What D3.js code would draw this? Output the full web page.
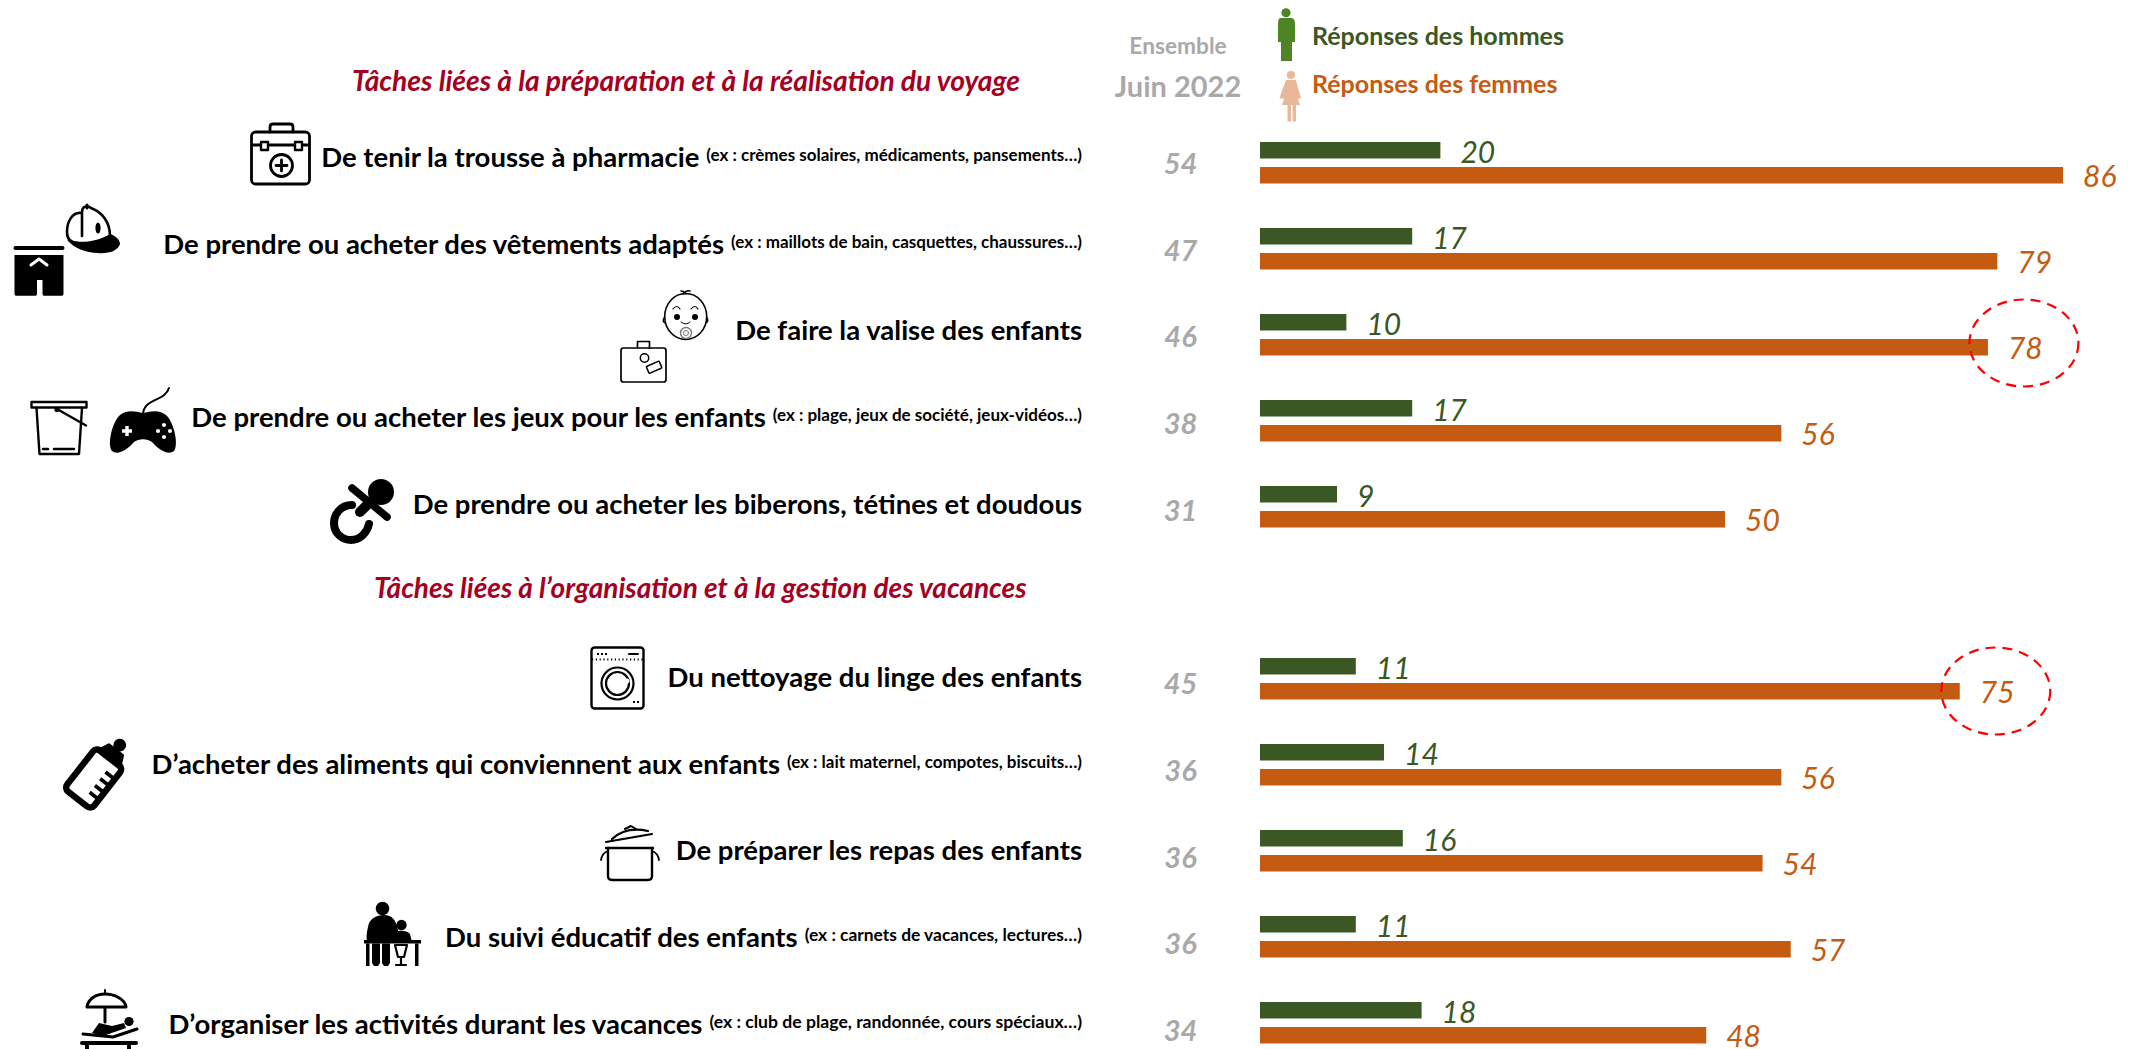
<!DOCTYPE html>
<html lang="fr">
<head>
<meta charset="utf-8">
<title>Tâches liées aux vacances</title>
<script src="https://cdn.jsdelivr.net/npm/d3@7"></script>
<style>
  html, body { margin: 0; padding: 0; background: #fff; }
  svg { display: block; }
  text { font-family: Lato, "Open Sans", sans-serif; }
</style>
</head>
<body>
<div id="chart"></div>
<script>
// Data
var tasks = [
    'De tenir la trousse à pharmacie',
    'De prendre ou acheter des vêtements adaptés',
    'De faire la valise des enfants',
    'De prendre ou acheter les jeux pour les enfants',
    'De prendre ou acheter les biberons, tétines et doudous',
    '',
    'Du nettoyage du linge des enfants',
    'D’acheter des aliments qui conviennent aux enfants',
    'De préparer les repas des enfants',
    'Du suivi éducatif des enfants',
    'D’organiser les activités durant les vacances'
];
var notes = [
    '(ex : crèmes solaires, médicaments, pansements…)',
    '(ex : maillots de bain, casquettes, chaussures…)',
    '',
    '(ex : plage, jeux de société, jeux-vidéos…)',
    '',
    '',
    '',
    '(ex : lait maternel, compotes, biscuits…)',
    '',
    '(ex : carnets de vacances, lectures…)',
    '(ex : club de plage, randonnée, cours spéciaux…)'
];
var ensemble = [54, 47, 46, 38, 31, null, 45, 36, 36, 36, 34];
var hommes = [20, 17, 10, 17, 9, null, 11, 14, 16, 11, 18];
var femmes = [86, 79, 78, 56, 50, null, 75, 56, 54, 57, 48];
var highlighted = [78, 75];
var sections = [
    'Tâches liées à la préparation et à la réalisation du voyage',
    'Tâches liées à l’organisation et à la gestion des vacances'
];

var green = '#3b5723';
var orange = '#c55a11';
var grey = '#a9a9a9';
var crimson = '#a50021';

var svg = d3.select('#chart').append('svg')
    .attr('width', 2143)
    .attr('height', 1049)
;

// Scales (the two series of the original do not share the same origin)
var xHommes = d3.scaleLinear().domain([0, 100]).range([1252.4, 2192.4]);
var xFemmes = d3.scaleLinear().domain([0, 100]).range([1255.5, 2194.5]);
var yBars = d3.scalePoint().domain(d3.range(tasks.length)).range([142, 1002]);
var yText = d3.scalePoint().domain(d3.range(tasks.length)).range([166, 1033]);

var rows = d3.range(tasks.length).filter(function (i) {
    return tasks[i] !== '';
});

// Bars
svg.selectAll('rect.homme')
    .data(rows)
    .enter()
    .append('rect')
    .attr('class', 'homme')
    .attr('x', 1260)
    .attr('y', function (i) { return yBars(i); })
    .attr('width', function (i) { return xHommes(hommes[i]) - 1260; })
    .attr('height', 16.5)
    .attr('fill', green)
;

svg.selectAll('rect.femme')
    .data(rows)
    .enter()
    .append('rect')
    .attr('class', 'femme')
    .attr('x', 1260)
    .attr('y', function (i) { return yBars(i) + 25; })
    .attr('width', function (i) { return xFemmes(femmes[i]) - 1260; })
    .attr('height', 16.5)
    .attr('fill', orange)
;

// Bar labels
svg.selectAll('text.v-homme')
    .data(rows)
    .enter()
    .append('text')
    .attr('class', 'v-homme')
    .text(function (i) { return hommes[i]; })
    .attr('x', function (i) { return xHommes(hommes[i]) + 20; })
    .attr('y', function (i) { return yBars(i) + 20.5; })
    .attr('fill', green)
    .attr('font-size', 30)
    .attr('font-style', 'italic')
;

svg.selectAll('text.v-femme')
    .data(rows)
    .enter()
    .append('text')
    .attr('class', 'v-femme')
    .text(function (i) { return femmes[i]; })
    .attr('x', function (i) { return xFemmes(femmes[i]) + 20; })
    .attr('y', function (i) { return yBars(i) + 45; })
    .attr('fill', orange)
    .attr('font-size', 30)
    .attr('font-style', 'italic')
;

// Ensemble column
svg.selectAll('text.ensemble')
    .data(rows)
    .enter()
    .append('text')
    .attr('class', 'ensemble')
    .text(function (i) { return ensemble[i]; })
    .attr('x', 1180.5)
    .attr('y', function (i) { return yText(i) + 8; })
    .attr('fill', grey)
    .attr('font-size', 29)
    .attr('font-weight', 700)
    .attr('font-style', 'italic')
    .attr('text-anchor', 'middle')
;

// Task labels
var labels = svg.selectAll('text.task')
    .data(rows)
    .enter()
    .append('text')
    .attr('class', 'task')
    .attr('x', 1082)
    .attr('y', function (i) { return yText(i) + 0.8; })
    .attr('text-anchor', 'end')
    .attr('font-weight', 700)
    .attr('fill', '#000')
;
labels.append('tspan')
    .attr('font-size', 27.5)
    .text(function (i) { return tasks[i]; })
;
labels.filter(function (i) { return notes[i] !== ''; })
    .append('tspan')
    .attr('font-size', function (i) { return i === 10 ? 17.6 : i === 9 ? 17.4 : 17; })
    .attr('dx', 7)
    .attr('dy', -6)
    .text(function (i) { return notes[i]; })
;

// Section titles
svg.selectAll('text.section')
    .data(sections)
    .enter()
    .append('text')
    .attr('class', 'section')
    .text(function (d) { return d; })
    .attr('x', function (d, i) { return i === 0 ? 352 : 374; })
    .attr('y', function (d, i) { return i === 0 ? 91 : 598; })
    .attr('fill', crimson)
    .attr('font-size', function (d, i) { return i === 0 ? 28.2 : 28; })
    .attr('font-weight', 700)
    .attr('font-style', 'italic')
;

// Header
svg.append('text').text('Ensemble')
    .attr('x', 1178).attr('y', 54)
    .attr('text-anchor', 'middle')
    .attr('fill', grey).attr('font-size', 22.7).attr('font-weight', 700);
svg.append('text').text('Juin 2022')
    .attr('x', 1178).attr('y', 97)
    .attr('text-anchor', 'middle')
    .attr('fill', grey).attr('font-size', 29).attr('font-weight', 700);
svg.append('text').text('Réponses des hommes')
    .attr('x', 1312).attr('y', 45)
    .attr('fill', green).attr('font-size', 25).attr('font-weight', 700);
svg.append('text').text('Réponses des femmes')
    .attr('x', 1312).attr('y', 93)
    .attr('fill', orange).attr('font-size', 25).attr('font-weight', 700);

// Dashed circles around the highlighted values
svg.selectAll('ellipse.highlight')
    .data(rows.filter(function (i) { return highlighted.indexOf(femmes[i]) >= 0; }))
    .enter()
    .append('ellipse')
    .attr('class', 'highlight')
    .attr('cx', function (i) { return xFemmes(femmes[i]) + 36; })
    .attr('cy', function (i) { return yBars(i) + (i < 5 ? 29 : 33); })
    .attr('rx', 54.5)
    .attr('ry', 43.5)
    .attr('fill', 'none')
    .attr('stroke', '#f00')
    .attr('stroke-width', 2.2)
    .attr('stroke-dasharray', '10 7')
;

// Pictograms
var icons = svg.append('g')
    .attr('fill', 'none')
    .attr('stroke', '#000')
    .attr('stroke-linejoin', 'round')
    .attr('stroke-linecap', 'round')
;
function line(d, w) {
    return icons.append('path').attr('d', d).attr('stroke-width', w || 2.5);
}
function solid(d) {
    return icons.append('path').attr('d', d).attr('fill', '#000').attr('stroke', 'none');
}
function ring(cx, cy, r, w) {
    return icons.append('circle').attr('cx', cx).attr('cy', cy).attr('r', r).attr('stroke-width', w || 2.5);
}
function disc(cx, cy, r) {
    return icons.append('circle').attr('cx', cx).attr('cy', cy).attr('r', r).attr('fill', '#000').attr('stroke', 'none');
}

// trousse
icons.append('rect').attr('x', 251.5).attr('y', 132).attr('width', 58).attr('height', 52).attr('rx', 4).attr('stroke-width', 2.8);
line('M270 132V127Q270 124 273 124H290Q293 124 293 127V132', 2.8);
line('M252 145H309', 2.8);
icons.append('rect').attr('x', 261).attr('y', 142).attr('width', 7).attr('height', 8).attr('fill', '#fff').attr('stroke-width', 2.4);
icons.append('rect').attr('x', 295).attr('y', 142).attr('width', 7).attr('height', 8).attr('fill', '#fff').attr('stroke-width', 2.4);
ring(281.5, 165.5, 11, 2.8);
line('M281.5 160V171M276 165.5H287', 2.8);

// casquette + short
line('M81 213C72 212 67 222 67 232C67 240 71 243 78 243', 2.6);
line('M82 236V212C82 206 87 205 91 208C102 212 110 222 110 236', 2.6);
line('M87 205V208', 3);
solid('M67 240C78 243 96 243 110 234C116 236 120 240 120 244C118 251 108 254 98 253C86 253 74 248 67 240Z');
icons.append('ellipse').attr('cx', 98).attr('cy', 228).attr('rx', 2.6).attr('ry', 5.5).attr('fill', '#000').attr('stroke', 'none');
line('M15.5 248H62.5', 4);
solid('M14.5 255H63.5V294Q63.5 295.7 62 295.7H44Q42.5 295.7 42.5 294V280H37V294Q37 295.7 35.5 295.7H16Q14.5 295.7 14.5 294Z');
icons.append('path').attr('d', 'M31 265L39 259L47 265').attr('stroke', '#fff').attr('stroke-width', 3);

// bebe + valise
icons.append('ellipse').attr('cx', 685.7).attr('cy', 316.5).attr('rx', 21).attr('ry', 23).attr('stroke-width', 1.6);
line('M664 318Q662 321 665 323M707 318Q709 321 706 323', 1.4);
line('M683 294Q686 290 690 291M686 294Q684 291 681 291', 1.6);
line('M673 309Q677 304 680 309M691 309Q695 304 698 309', 1.2);
disc(677, 317, 3);
disc(695, 317, 3);
line('M681 322Q686 326 690 322', 1);
icons.append('circle').attr('cx', 686).attr('cy', 333).attr('r', 5.5).attr('stroke', '#777').attr('stroke-width', 1.4);
icons.append('circle').attr('cx', 686).attr('cy', 333).attr('r', 2.5).attr('stroke', '#777').attr('stroke-width', 1);
icons.append('rect').attr('x', 621).attr('y', 348).attr('width', 45).attr('height', 34).attr('rx', 2.5).attr('stroke-width', 1.7);
line('M637.5 348V341.5H649.5V348', 1.7);
ring(644.5, 358, 4.2, 1.5);
icons.append('rect').attr('x', 647).attr('y', 363.5).attr('width', 14).attr('height', 7.5).attr('rx', 1).attr('stroke-width', 1.5).attr('transform', 'rotate(-24 654 367)');

// seau
line('M31.5 402H86.5V407.5H31.5Z', 2.4);
line('M36.5 408L39.5 454H79L82 408', 2.4);
line('M43 449H48M54 449H74', 2.4);
line('M57 409L86 425.5', 2.4);
disc(57, 409.5, 2.6);

// manette
line('M143 415C143 398 165 402 169 388', 2);
solid('M120 415C128 409 136 412 143 413C150 412 158 409 166 415C174 422 179 445 174 451C168 456 158 449 153 443C148 438 138 438 133 443C128 449 118 456 112 451C107 445 112 422 120 415Z');
icons.append('path').attr('d', 'M122 431H132M127 426V436').attr('stroke', '#fff').attr('stroke-width', 3.4).attr('stroke-linecap', 'butt');
[[158, 431], [164, 425], [170, 431], [164, 437]].forEach(function (p) {
    icons.append('circle').attr('cx', p[0]).attr('cy', p[1]).attr('r', 2.1).attr('fill', '#fff').attr('stroke', 'none');
});

// tetine
disc(381, 492, 13);
line('M352 488L387 517', 7.5);
line('M371 501L360 512', 10);
line('M352 505C340 505 334 515 334 523C334 534 343 540 351 540C360 540 367 533 369 524', 8);

// machine a laver
icons.append('rect').attr('x', 591.5).attr('y', 647.5).attr('width', 52).attr('height', 61).attr('rx', 3).attr('stroke-width', 2.4);
line('M592 659.5H643', 2).attr('stroke-dasharray', '1.2 2.6').attr('stroke-linecap', 'butt');
line('M629 654H638', 2);
line('M597 654H607', 2).attr('stroke-dasharray', '2 2').attr('stroke-linecap', 'butt');
line('M633 702H640', 2).attr('stroke-dasharray', '2 2').attr('stroke-linecap', 'butt');
ring(617.5, 683.5, 16, 2.2);
ring(617.5, 683.5, 11.5, 2.2);
icons.append('circle').attr('cx', 627).attr('cy', 681).attr('r', 2.5).attr('fill', '#fff').attr('stroke', 'none');

// biberon
var bottle = icons.append('g').attr('transform', 'translate(94 778) rotate(38) scale(1.07)');
bottle.append('rect').attr('x', -16).attr('y', -24).attr('width', 32).attr('height', 49).attr('rx', 5).attr('fill', '#fff').attr('stroke-width', 6);
bottle.append('path').attr('d', 'M-13 -22L-8 -33H8L13 -22Z').attr('fill', '#000').attr('stroke', '#000').attr('stroke-width', 3);
bottle.append('circle').attr('cx', 0).attr('cy', -39).attr('r', 6).attr('fill', '#000').attr('stroke', 'none');
bottle.append('path').attr('d', 'M16 -3H5M16 5H5M16 13H5M16 -11H5').attr('stroke-width', 3.4).attr('stroke-linecap', 'butt');

// casserole
line('M606 848H653', 2.4);
line('M608 848V876Q608 880 612 880H648Q652 880 652 876V848', 2.4);
line('M608 851Q602 853 601 860M652 851Q658 853 659 860', 1.8);
line('M606 842L652 834', 2.2);
line('M612 839Q626 826 648 831', 2.2);
line('M625 829L631 826L636 829', 2);

// suivi educatif
disc(382.5, 908.5, 6.8);
solid('M368 927C369 919 376 915 384 915C392 915 396 920 398 930L397 941H367C366 936 367 931 368 927Z');
disc(401.5, 925, 5.2);
solid('M392 942L393 933C396 930 407 930 410 934L412 942Z');
solid('M364 940H421V943.5H364Z');
solid('M366 943.5H369.5V966H366ZM415 943.5H418.5V966H415Z');
solid('M372 943.5H380V963L378 966H374L372 963ZM382 943.5H390V963L388 966H384L382 963Z');
line('M395 945H407L404 957H398ZM401 957V964M396 965H406', 2.2);

// vacances
line('M87 1007C88 999 96 994 105 994C114 994 125 999 126 1007Z', 3);
line('M105 1008V1022', 3);
line('M105 990V993', 2);
disc(129, 1021.5, 4.6);
solid('M92 1033L99 1023L112 1026L124 1023L126 1028L103 1036Z');
line('M83 1034L113 1037L137 1029', 3);
line('M82 1043H136', 4);
line('M87 1043V1049M129 1043V1049', 4);

// Silhouettes de la legende
svg.append('ellipse').attr('cx', 1286).attr('cy', 12.7).attr('rx', 4.6).attr('ry', 4.5).attr('fill', '#4e8524');
svg.append('path')
    .attr('d', 'M1280 18H1292Q1295 19 1295 24V42H1292V61H1281V42H1278V24Q1278 19 1280 18Z')
    .attr('fill', '#4e8524');
svg.append('ellipse').attr('cx', 1291).attr('cy', 75).attr('rx', 4.2).attr('ry', 4).attr('fill', '#e9b89b');
svg.append('path')
    .attr('d', 'M1286 80H1296L1298 88L1301 98L1298 99L1296 93L1300 105H1282L1286 93L1284 99L1279.5 98L1283 88ZM1287.5 105H1291V121.5H1287.5ZM1292.5 105H1296V121.5H1292.5Z')
    .attr('fill', '#e9b89b');
</script>
</body>
</html>
